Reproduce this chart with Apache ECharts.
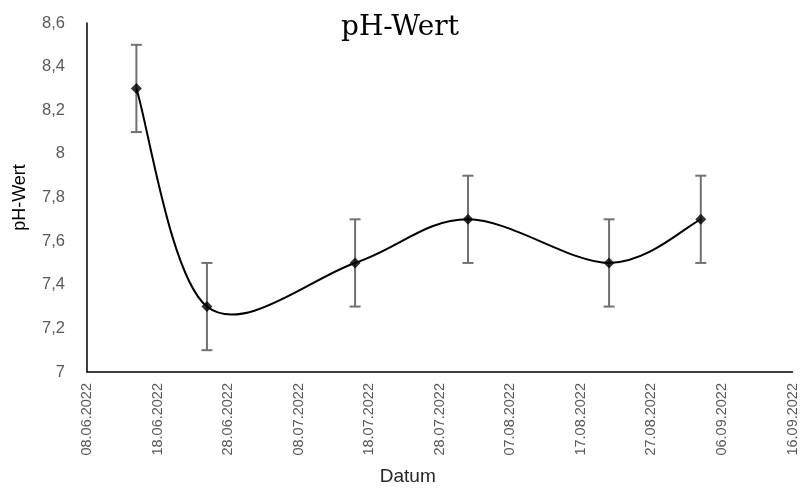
<!DOCTYPE html>
<html>
<head>
<meta charset="utf-8">
<script src="https://cdn.jsdelivr.net/npm/echarts@6/dist/echarts.min.js"></script>
<style>html,body{margin:0;padding:0;background:#fff;}#chart{width:800px;height:491px;}</style>
</head>
<body>
<div id="chart"></div>
<script>
// ---- data ----
const sampleDates = ['15.06.2022', '25.06.2022', '16.07.2022', '01.08.2022', '21.08.2022', '03.09.2022'];
const phValues = [8.3, 7.3, 7.5, 7.7, 7.5, 7.7];
const phErrors = [0.2, 0.2, 0.2, 0.2, 0.2, 0.2];
const xStartDate = '08.06.2022';
const xEndDate = '16.09.2022';
const xTickDays = 10;
const yMin = 7, yMax = 8.6, yStep = 0.2;

// ---- helpers ----
function toSerial(s) {
  const [d, m, y] = s.split('.').map(Number);
  return Date.UTC(y, m - 1, d) / 86400000 + 25569;
}
function fromSerial(v) {
  const dt = new Date(Math.round((v - 25569) * 86400000));
  const p = n => String(n).padStart(2, '0');
  return p(dt.getUTCDate()) + '.' + p(dt.getUTCMonth() + 1) + '.' + dt.getUTCFullYear();
}
const pts = sampleDates.map((d, i) => [toSerial(d), phValues[i]]);
const errData = sampleDates.map((d, i) => [toSerial(d), phValues[i] - phErrors[i], phValues[i] + phErrors[i]]);

const chart = echarts.init(document.getElementById('chart'));
const labelColor = '#595959';
chart.setOption({
  animation: false,
  backgroundColor: '#ffffff',
  title: {
    text: 'pH-Wert', left: 'center', top: 9,
    textStyle: { fontFamily: 'DejaVu Serif', fontSize: 28, fontWeight: 'normal', color: '#000' }
  },
  grid: { left: 87, right: 3, top: 23, bottom: 117, containLabel: false },
  xAxis: {
    type: 'value',
    min: toSerial(xStartDate), max: toSerial(xEndDate), interval: xTickDays,
    name: 'Datum', nameLocation: 'middle', nameGap: 95,
    nameTextStyle: { fontFamily: 'Liberation Sans', fontSize: 19, color: '#262626', padding: [0, 64, 0, 0] },
    axisLine: { show: true, lineStyle: { color: '#000', width: 1.5 } },
    axisTick: { show: false },
    splitLine: { show: false },
    axisLabel: {
      rotate: 90, margin: 11, color: labelColor, fontFamily: 'Liberation Sans', fontSize: 14.5,
      showMinLabel: true, showMaxLabel: true,
      formatter: v => fromSerial(v)
    }
  },
  yAxis: {
    type: 'value', min: yMin, max: yMax, interval: yStep,
    name: 'pH-Wert', nameLocation: 'middle', nameGap: 58,
    nameTextStyle: { fontFamily: 'Liberation Sans', fontSize: 18, color: '#000' },
    axisLine: { show: true, lineStyle: { color: '#000', width: 1.5 } },
    axisTick: { show: false },
    splitLine: { show: false },
    axisLabel: {
      margin: 22, color: labelColor, fontFamily: 'Liberation Sans', fontSize: 16.5,
      formatter: v => String(Math.round(v * 10) / 10).replace('.', ',')
    }
  },
  series: [
    {
      type: 'custom', name: 'err', z: 2,
      data: errData,
      encode: { x: 0, y: [1, 2] },
      renderItem: function (params, api) {
        const x = api.value(0);
        const lo = api.coord([x, api.value(1)]);
        const hi = api.coord([x, api.value(2)]);
        const c = 5.5;
        const style = { stroke: '#707070', lineWidth: 2, fill: null };
        return {
          type: 'group',
          children: [
            { type: 'line', shape: { x1: lo[0], y1: lo[1], x2: hi[0], y2: hi[1] }, style },
            { type: 'line', shape: { x1: lo[0] - c, y1: lo[1], x2: lo[0] + c, y2: lo[1] }, style },
            { type: 'line', shape: { x1: hi[0] - c, y1: hi[1], x2: hi[0] + c, y2: hi[1] }, style }
          ]
        };
      }
    },
    {
      type: 'custom', name: 'curve', z: 3,
      data: [pts[0]],
      encode: { x: 0, y: 1 },
      renderItem: function (params, api) {
        const P = pts.map(p => api.coord(p));
        let d = 'M' + P[0][0] + ',' + P[0][1];
        for (let i = 0; i < P.length - 1; i++) {
          const p0 = P[i - 1] || P[i];
          const p1 = P[i];
          const p2 = P[i + 1];
          const p3 = P[i + 2] || P[i + 1];
          const c1 = [p1[0] + (p2[0] - p0[0]) / 6, p1[1] + (p2[1] - p0[1]) / 6];
          const c2 = [p2[0] - (p3[0] - p1[0]) / 6, p2[1] - (p3[1] - p1[1]) / 6];
          d += ' C' + c1[0] + ',' + c1[1] + ' ' + c2[0] + ',' + c2[1] + ' ' + p2[0] + ',' + p2[1];
        }
        return {
          type: 'path',
          shape: { pathData: d },
          style: { stroke: '#000', lineWidth: 2, fill: null }
        };
      }
    },
    {
      type: 'scatter', name: 'pH', z: 4,
      data: pts,
      symbol: 'diamond', symbolSize: 11,
      itemStyle: { color: '#000' }
    }
  ]
});
</script>
</body>
</html>
